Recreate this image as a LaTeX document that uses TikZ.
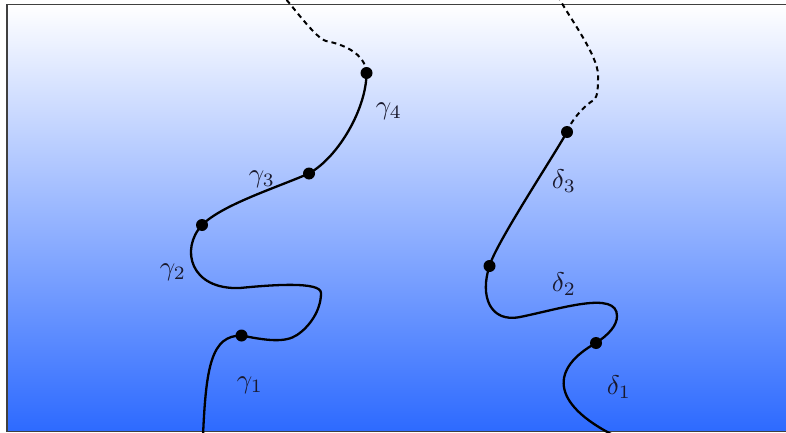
\documentclass[tikz,border=0pt]{standalone}
\definecolor{bluebot}{RGB}{45,106,255}
\definecolor{labcol}{RGB}{25,25,45}
\begin{document}
\begin{tikzpicture}[x=1pt,y=-1pt,
  curve/.style={line width=2.3pt,line cap=round},
  dashcurve/.style={line width=2pt,dash pattern=on 5pt off 4pt},
  dot/.style={circle,fill=black,inner sep=0pt,minimum size=12pt},
  lab/.style={text=labcol,scale=2.7,inner sep=0pt}]
\useasboundingbox (0,0) rectangle (786,433);
\clip (0,0) rectangle (786,433);
\shade[top color=white,bottom color=bluebot,shading angle=0] (7,4.5) rectangle (800,431.5);
\draw[line width=1.5pt,black!75] (7,4.5) rectangle (800,431.5);
% dots and way points
\coordinate (g1) at (241.5,335.5);
\coordinate (g2) at (202,225);
\coordinate (g3) at (309,173.5);
\coordinate (g4) at (366.5,73);
\coordinate (d1) at (596,343);
\coordinate (d2) at (489.5,266);
\coordinate (d3) at (567,132);
\coordinate (gs) at (203,436);
\coordinate (v1) at (297,335);
\coordinate (p1) at (321,293);
\coordinate (p2) at (240,288);
\coordinate (q1) at (326,41);
\coordinate (ge) at (285,-2);
\coordinate (ds) at (615,436);
\coordinate (r1) at (617,316);
\coordinate (s1) at (520,317);
\coordinate (t1) at (594,100);
\coordinate (u1) at (598,75);
\coordinate (de) at (559,-2);
% gamma curve
\draw[curve] (gs) .. controls +(3,-70) and +(-30,0) .. (g1)
  .. controls +(25,5) and +(-12,8) .. (v1)
  .. controls +(12,-8) and +(0,18) .. (p1)
  .. controls +(0,-12) and +(30,-3) .. (p2)
  .. controls +(-50,2) and +(-22,24) .. (g2)
  .. controls +(20,-20) and +(-35,15) .. (g3)
  .. controls +(30,-17) and +(0,35) .. (g4);
\draw[dashcurve] (g4) .. controls +(-1,-20) and +(16,3) .. (q1)
  .. controls +(-10,-3) and +(12,14) .. (ge);
% delta curve
\draw[curve] (ds) .. controls +(-66,-33) and +(-45,25) .. (d1)
  .. controls +(12,-8) and +(0,10) .. (r1)
  .. controls +(0,-26) and +(40,-8) .. (s1)
  .. controls +(-30,6) and +(-10,30) .. (d2)
  .. controls +(6,-22) and +(-14,25) .. (d3);
\draw[dashcurve] (d3) .. controls +(4,-12) and +(-8,4) .. (t1)
  .. controls +(4,-4) and +(0,12) .. (u1)
  .. controls +(0,-20) and +(8,16) .. (de);
\foreach \p in {g1,g2,g3,g4,d1,d2,d3} \node[dot] (n\p) at (\p) {};
% labels
\node[lab] (lg1) at (250,385) {$\gamma_1$};
\node[lab] (lg2) at (173,272) {$\gamma_2$};
\node[lab] (lg3) at (262,179) {$\gamma_3$};
\node[lab] (lg4) at (389,111) {$\gamma_4$};
\node[lab] (ld1) at (619,387) {$\delta_1$};
\node[lab] (ld2) at (564,284) {$\delta_2$};
\node[lab] (ld3) at (564,181) {$\delta_3$};
\end{tikzpicture}
\end{document}
